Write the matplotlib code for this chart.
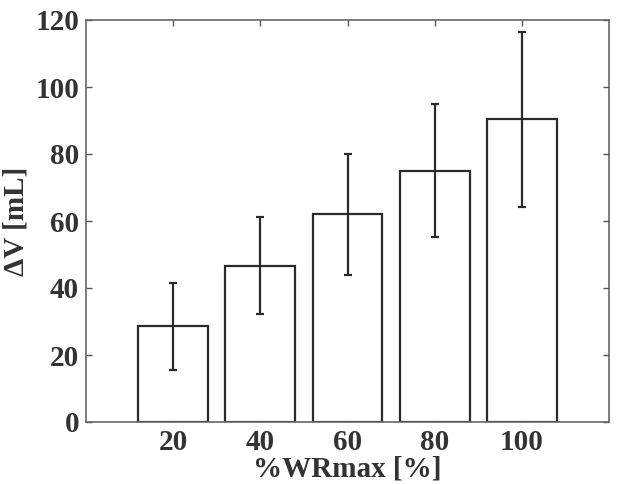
import matplotlib
matplotlib.use("Agg")
import matplotlib.pyplot as plt

# data
categories = ["20", "40", "60", "80", "100"]
means = [28.6, 46.7, 62.0, 75.0, 90.3]
errors = [13.0, 14.6, 18.0, 19.9, 26.0]

plt.rcParams['font.family'] = ['Liberation Serif', 'DejaVu Serif']
plt.rcParams['font.weight'] = 'bold'

fig = plt.figure(figsize=(6.17, 4.84), dpi=100)
ax = fig.add_axes([86 / 617, 62 / 484, 523 / 617, 402 / 484])

pos = list(range(1, len(categories) + 1))
ax.bar(pos, means, width=0.8, color='white', edgecolor='#2a2a2a', linewidth=1.6, zorder=2)
ax.errorbar(pos, means, yerr=errors, fmt='none', ecolor='#2a2a2a',
            elinewidth=1.6, capsize=3, capthick=1.6, zorder=3)

ax.set_xlim(0, 6)
ax.set_ylim(0, 120)
ax.set_xticks(pos)
ax.set_xticklabels(categories)
ax.set_yticks(range(0, 121, 20))

ax.tick_params(direction='in', top=True, right=True, length=4, width=1,
               color='#555555', labelsize=21, labelcolor='#333333', pad=5)
for sp in ax.spines.values():
    sp.set_color('#666666')
    sp.set_linewidth(1.2)

ax.set_xlabel('%WRmax [%]', fontsize=21, fontweight='bold', color='#333333', labelpad=0)
ax.set_ylabel('ΔV [mL]', fontsize=21, fontweight='bold', color='#333333', labelpad=4)

fig.savefig('out.png', dpi=100)
